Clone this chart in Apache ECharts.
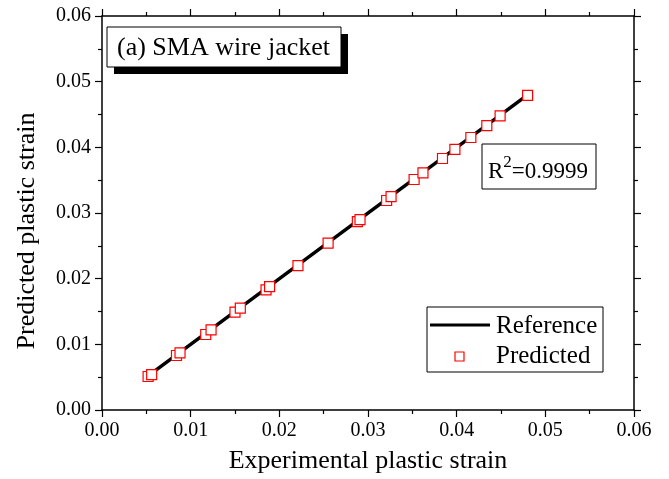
<!DOCTYPE html>
<html>
<head>
<meta charset="utf-8">
<script src="https://cdn.jsdelivr.net/npm/echarts@6/dist/echarts.min.js"></script>
<style>
  html, body { margin: 0; padding: 0; background: #fff; }
  #chart { width: 669px; height: 479px; }
</style>
</head>
<body>
<div id="chart"></div>
<script>
// experimental vs predicted plastic strain
const experimental = [0.0052, 0.0056, 0.0084, 0.0088, 0.0117, 0.0123, 0.0150, 0.0156, 0.0185, 0.0189,
  0.0221, 0.0255, 0.0288, 0.0291, 0.0321, 0.0326, 0.0352, 0.0362, 0.0384, 0.0398, 0.0416, 0.0434, 0.0449, 0.0480];
const predicted = [0.0051, 0.0054, 0.0083, 0.0087, 0.0115, 0.0122, 0.0149, 0.0155, 0.0183, 0.0188,
  0.0220, 0.0254, 0.0287, 0.0290, 0.0319, 0.0325, 0.0351, 0.0361, 0.0383, 0.0397, 0.0415, 0.0433, 0.0448, 0.0479];
// reference line y = x
const refX = [0.0052, 0.0480];
const refY = [0.0052, 0.0480];
const ticks = [0, 0.01, 0.02, 0.03, 0.04, 0.05, 0.06];

const FONT = "Liberation Serif";
const chart = echarts.init(document.getElementById("chart"));

const axisCommon = {
  type: "value",
  min: ticks[0],
  max: ticks[ticks.length - 1],
  interval: 0.01,
  splitLine: { show: false },
  axisLine: { show: true, onZero: false, lineStyle: { color: "#000", width: 1.5 } },
  axisTick: { show: true, length: 7, lineStyle: { color: "#000", width: 1.2 } },
  minorTick: { show: true, splitNumber: 2, length: 4, lineStyle: { color: "#000", width: 1.2 } },
  axisLabel: {
    color: "#000",
    fontFamily: FONT,
    fontSize: 20,
    formatter: (v) => v.toFixed(2),
  },
};

const option = {
  animation: false,
  backgroundColor: "#fff",
  grid: { left: 102, right: 35, top: 16, bottom: 68 },
  xAxis: [
    {
      ...axisCommon,
      position: "bottom",
      name: "Experimental plastic strain",
      nameLocation: "middle",
      nameGap: 38,
      nameTextStyle: { color: "#000", fontFamily: FONT, fontSize: 26 },
      axisLabel: { ...axisCommon.axisLabel, margin: 11 },
    },
    {
      ...axisCommon,
      position: "top",
      axisLabel: { show: false },
    },
  ],
  yAxis: [
    {
      ...axisCommon,
      position: "left",
      name: "Predicted plastic strain",
      nameLocation: "middle",
      nameGap: 62,
      nameTextStyle: { color: "#000", fontFamily: FONT, fontSize: 26, padding: [0, 36, 0, 0] },
      axisLabel: { ...axisCommon.axisLabel, margin: 11 },
    },
    {
      ...axisCommon,
      position: "right",
      axisLabel: { show: false },
    },
  ],
  series: [
    {
      name: "Reference",
      type: "line",
      data: refX.map((x, i) => [x, refY[i]]),
      symbol: "none",
      lineStyle: { color: "#000", width: 3.5 },
      z: 1,
    },
    {
      name: "Predicted",
      type: "scatter",
      data: experimental.map((x, i) => [x, predicted[i]]),
      symbol: "rect",
      symbolSize: 10,
      itemStyle: { color: "#fff", borderColor: "#ff0000", borderWidth: 1.2, opacity: 1 },
      z: 10,
    },
  ],
  graphic: [
    // title box with drop shadow
    { type: "rect", shape: { x: 114, y: 34, width: 234, height: 40 }, style: { fill: "#000" }, z: 10 },
    { type: "rect", shape: { x: 107, y: 27, width: 234, height: 40 }, style: { fill: "#fff", stroke: "#000", lineWidth: 1 }, z: 11 },
    { type: "text", x: 117, y: 48, style: { text: "(a) SMA wire jacket", font: "26px " + FONT, fill: "#000", textVerticalAlign: "middle" }, z: 12 },
    // R^2 box
    { type: "rect", shape: { x: 482, y: 144, width: 114, height: 45 }, style: { fill: "#fff", stroke: "#000", lineWidth: 1 }, z: 11 },
    {
      type: "text", x: 488, y: 169, z: 12,
      style: {
        text: "{a|R}{b|2}{a|=0.9999}",
        textVerticalAlign: "middle",
        rich: {
          a: { fontFamily: FONT, fontSize: 23, color: "#000", verticalAlign: "bottom" },
          b: { fontFamily: FONT, fontSize: 17, color: "#000", verticalAlign: "top", padding: [0, 0, 12, 0] },
        },
      },
    },
    // legend
    { type: "rect", shape: { x: 427, y: 307, width: 176, height: 65 }, style: { fill: "#fff", stroke: "#000", lineWidth: 1 }, z: 11 },
    { type: "line", shape: { x1: 430, y1: 325, x2: 490, y2: 325 }, style: { stroke: "#000", lineWidth: 3 }, z: 12 },
    { type: "text", x: 496, y: 326, style: { text: "Reference", font: "25px " + FONT, fill: "#000", textVerticalAlign: "middle" }, z: 12 },
    { type: "rect", shape: { x: 455, y: 352, width: 9, height: 9 }, style: { fill: "#fff", stroke: "#ff0000", lineWidth: 1.2 }, z: 12 },
    { type: "text", x: 496, y: 356, style: { text: "Predicted", font: "25px " + FONT, fill: "#000", textVerticalAlign: "middle" }, z: 12 },
  ],
};

chart.setOption(option);
</script>
</body>
</html>
